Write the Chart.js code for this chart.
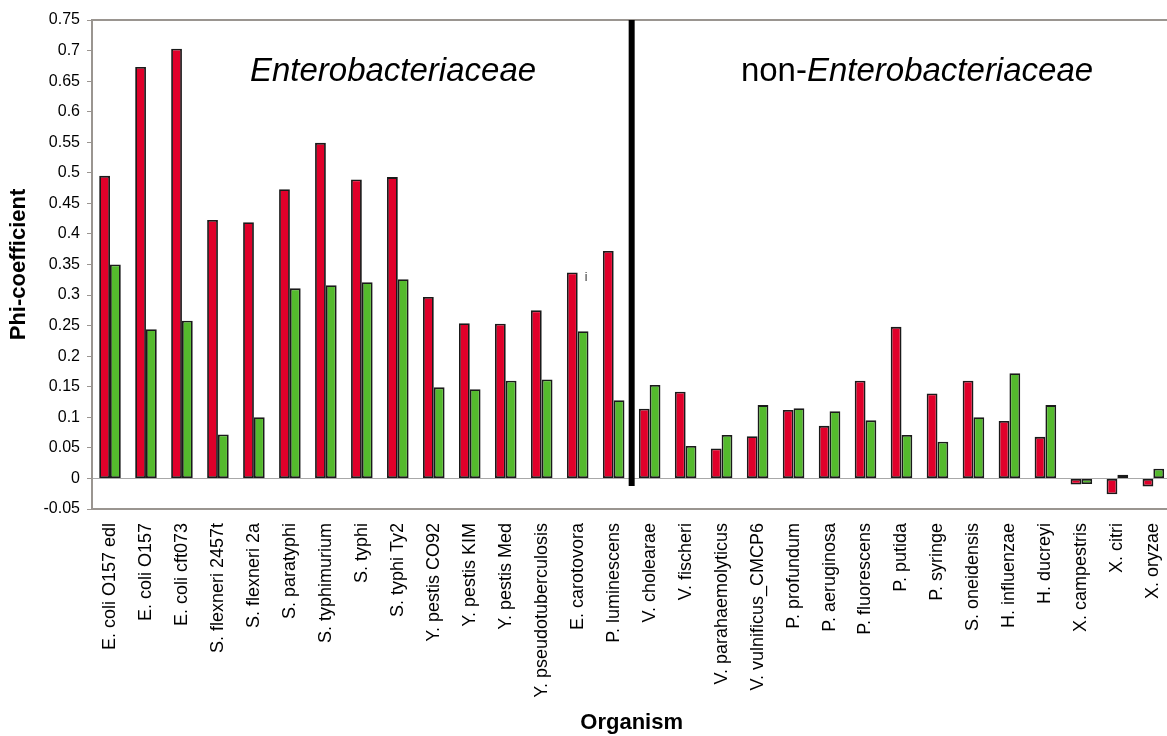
<!DOCTYPE html>
<html>
<head>
<meta charset="utf-8">
<script src="https://cdn.jsdelivr.net/npm/chart.js@4.4.1/dist/chart.umd.min.js"></script>
<style>
  html, body { margin: 0; padding: 0; background: #fff; overflow: hidden; }
  #wrap { width: 1189px; height: 736px; }
</style>
</head>
<body>
<div id="wrap"><canvas id="myChart" width="1189" height="736"></canvas></div>
<script>
const organisms = [
    'E. coli O157 edl', 'E. coli O157', 'E. coli cft073', 'S. flexneri 2457t', 'S. flexneri 2a',
    'S. paratyphi', 'S. typhimurium', 'S. typhi', 'S. typhi Ty2', 'Y. pestis CO92',
    'Y. pestis KIM', 'Y. pestis Med', 'Y. pseudotuberculosis', 'E. carotovora', 'P. luminescens',
    'V. cholearae', 'V. fischeri', 'V. parahaemolyticus', 'V. vulnificus_CMCP6', 'P. profundum',
    'P. aeruginosa', 'P. fluorescens', 'P. putida', 'P. syringe', 'S. oneidensis',
    'H. influenzae', 'H. ducreyi', 'X. campestris', 'X. citri', 'X. oryzae'
];
const redValues = [
    0.495, 0.673, 0.703, 0.423, 0.419, 0.473, 0.549, 0.489, 0.493, 0.297,
    0.254, 0.253, 0.275, 0.337, 0.372, 0.114, 0.142, 0.049, 0.069, 0.112,
    0.086, 0.160, 0.248, 0.139, 0.160, 0.094, 0.068, -0.010, -0.026, -0.013
];
const greenValues = [
    0.350, 0.244, 0.258, 0.072, 0.100, 0.311, 0.316, 0.321, 0.326, 0.149,
    0.146, 0.160, 0.162, 0.241, 0.128, 0.153, 0.053, 0.071, 0.120, 0.115,
    0.110, 0.095, 0.071, 0.060, 0.100, 0.172, 0.120, -0.009, 0.006, 0.016
];
const yMin = -0.05;
const yMax = 0.75;
const yStep = 0.05;
const groupSplit = 15; // first non-Enterobacteriaceae index

const axisGray = '#9a9590';
const redColor = '#e0002a';
const greenColor = '#54ba2d';

// draws the top frame line, the group separator and the group names
const overlayPlugin = {
    id: 'overlay',
    afterDatasetsDraw(chart) {
        const {ctx, chartArea, scales} = chart;
        const xs = scales.x, ys = scales.y;
        ctx.save();

        ctx.strokeStyle = axisGray;
        ctx.lineWidth = 2;
        ctx.beginPath();
        ctx.moveTo(chartArea.left, chartArea.top);
        ctx.lineTo(chartArea.right, chartArea.top);
        ctx.stroke();

        const sepX = (xs.getPixelForValue(groupSplit - 1) + xs.getPixelForValue(groupSplit)) / 2;
        ctx.strokeStyle = '#000';
        ctx.lineWidth = 6;
        ctx.beginPath();
        ctx.moveTo(sepX, chartArea.top);
        ctx.lineTo(sepX, ys.getPixelForValue(-0.0125));
        ctx.stroke();

        const textY = ys.getPixelForValue(0.65);
        ctx.fillStyle = '#000';
        ctx.textBaseline = 'alphabetic';
        ctx.textAlign = 'center';
        ctx.font = 'italic 33px "Liberation Sans", Arial, sans-serif';
        ctx.fillText('Enterobacteriaceae', 393, textY);

        const normalFont = '33px "Liberation Sans", Arial, sans-serif';
        const italicFont = 'italic 33px "Liberation Sans", Arial, sans-serif';
        ctx.font = normalFont;
        const w1 = ctx.measureText('non-').width;
        ctx.font = italicFont;
        const w2 = ctx.measureText('Enterobacteriaceae').width;
        let startX = 917 - (w1 + w2) / 2;
        ctx.textAlign = 'left';
        ctx.font = normalFont;
        ctx.fillText('non-', startX, textY);
        ctx.font = italicFont;
        ctx.fillText('Enterobacteriaceae', startX + w1, textY);

        // stray mark next to E. carotovora
        ctx.font = '12px "Liberation Sans", Arial, sans-serif';
        ctx.textAlign = 'center';
        ctx.textBaseline = 'middle';
        ctx.fillStyle = '#333';
        ctx.fillText('i', 586, 278);

        ctx.restore();
    }
};

const ctx = document.getElementById('myChart').getContext('2d');

const myChart = new Chart(ctx, {
    type: 'bar',
    data: {
        labels: organisms,
        datasets: [{
            label: 'red',
            data: redValues,
            backgroundColor: redColor,
            borderColor: '#1a1a1a',
            borderWidth: 1.8,
            borderSkipped: false,
        }, {
            label: 'green',
            data: greenValues,
            backgroundColor: greenColor,
            borderColor: '#1a1a1a',
            borderWidth: 1.8,
            borderSkipped: false,
        }],
    },
    options: {
        responsive: false,
        animation: false,
        categoryPercentage: 0.6,
        barPercentage: 1.0,
        layout: {
            padding: {top: 20, right: 3, bottom: 0, left: 0},
        },
        scales: {
            x: {
                afterFit: (scale) => { scale.height = 227; },
                grid: {
                    color: 'transparent',
                    drawTicks: false,
                },
                border: {
                    color: axisGray,
                    width: 2,
                },
                ticks: {
                    autoSkip: false,
                    minRotation: 90,
                    maxRotation: 90,
                    padding: 14,
                    color: '#000',
                    font: {family: '"Liberation Sans", Arial', size: 18},
                },
                title: {
                    display: true,
                    text: 'Organism',
                    color: '#000',
                    padding: {top: 0, bottom: 0},
                    font: {family: '"Liberation Sans", Arial', size: 22, weight: 'bold'},
                },
            },
            y: {
                min: yMin,
                max: yMax,
                afterFit: (scale) => { scale.width = 92; },
                grid: {
                    color: (c) => (c.tick && Math.abs(c.tick.value) < 1e-9) ? '#a8a8a8' : 'transparent',
                    tickColor: axisGray,
                    tickLength: 5,
                    lineWidth: 1,
                },
                border: {
                    color: axisGray,
                    width: 2,
                },
                ticks: {
                    stepSize: yStep,
                    padding: 7,
                    color: '#000',
                    font: {family: '"Liberation Sans", Arial', size: 16},
                    callback: (v) => Number(v.toFixed(2)).toString(),
                },
                title: {
                    display: true,
                    text: 'Phi-coefficient',
                    color: '#000',
                    padding: {top: 6, bottom: 0},
                    font: {family: '"Liberation Sans", Arial', size: 22, weight: 'bold'},
                },
            },
        },
        plugins: {
            legend: {display: false},
            tooltip: {enabled: false},
        },
    },
    plugins: [overlayPlugin],
});
</script>
</body>
</html>
